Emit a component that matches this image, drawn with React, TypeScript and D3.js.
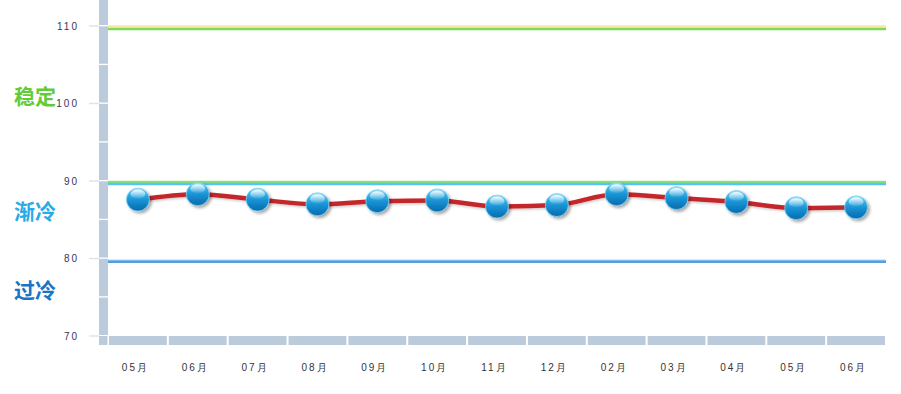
import React from "react";
import * as d3 from "d3";

const categories = ["05月", "06月", "07月", "08月", "09月", "10月", "11月", "12月", "02月", "03月", "04月", "05月", "06月"];
const values = [87.6, 88.3, 87.6, 87.0, 87.4, 87.5, 86.7, 86.9, 88.3, 87.8, 87.3, 86.5, 86.6];
const yTicks = [70, 80, 90, 100, 110];
const yGapValues = [70, 75, 80, 85, 90, 95, 100, 105, 110];
const thresholdValues = [109.95, 109.6, 89.88, 89.6, 79.62];
const thresholdColors = ["#fbe6a6", "#7fd95a", "#8fdf6c", "#55c4f0", "#559fde"];
const zoneLabels = ["稳定", "渐冷", "过冷"];
const zoneLabelValues = [101.0, 86.1, 75.9];
const zoneColors = ["#62cb35", "#2aaae6", "#1a74c6"];

const W = 901;
const H = 394;

export default function App() {
  const y = d3.scaleLinear().domain([70, 110]).range([336, 26]);
  const x = d3.scaleBand<number>().domain(d3.range(categories.length)).range([108, 886]);
  const bw = x.bandwidth();
  const cx = (i: number) => (x(i) as number) + bw / 2;

  const line = d3
    .line<number>()
    .x((_, i) => cx(i))
    .y((d) => y(d))
    .curve(d3.curveMonotoneX);

  const axisFont = "'Liberation Sans', Arial, sans-serif";

  return (
    <svg
      width={W}
      height={H}
      style={{ position: "absolute", left: 0, top: 0, background: "#fff" }}
      xmlns="http://www.w3.org/2000/svg"
    >
      <defs>
        <linearGradient id="ball" x1="0" y1="0" x2="0" y2="1">
          <stop offset="0" stopColor="#a6e6fb" />
          <stop offset="0.2" stopColor="#3fb6ea" />
          <stop offset="0.55" stopColor="#1590d2" />
          <stop offset="1" stopColor="#0a6aab" />
        </linearGradient>
        <linearGradient id="gloss" x1="0" y1="0" x2="0" y2="1">
          <stop offset="0" stopColor="#ffffff" stopOpacity="0.9" />
          <stop offset="1" stopColor="#ffffff" stopOpacity="0.05" />
        </linearGradient>
        <filter id="shadow" x="-50%" y="-50%" width="200%" height="200%">
          <feDropShadow dx="2" dy="2" stdDeviation="1.4" floodColor="#000" floodOpacity="0.35" />
        </filter>
        <filter id="lineShadow" x="-5%" y="-50%" width="110%" height="200%">
          <feDropShadow dx="1" dy="1.5" stdDeviation="1" floodColor="#000" floodOpacity="0.2" />
        </filter>
      </defs>

      {/* vertical axis bar */}
      <rect x={99} y={0} width={9} height={336} fill="#bccbdc" />
      {yGapValues.map((v) => (
        <rect key={"g" + v} x={99} y={y(v) - 1} width={9} height={1.3} fill="#ffffff" />
      ))}
      {/* corner piece */}
      <rect x={99} y={336} width={8.5} height={9} fill="#bccbdc" />
      {/* bottom bar segments */}
      {categories.map((c, i) => (
        <rect key={"b" + i} x={(x(i) as number) + 1} y={336} width={bw - 2} height={9} fill="#bccbdc" />
      ))}

      {/* y ticks */}
      {yTicks.map((t) => (
        <g key={"t" + t}>
          <line x1={89} x2={99} y1={y(t)} y2={y(t)} stroke="#dde4ec" strokeWidth={1.5} />
          <text
            x={79}
            y={y(t) + 3.5}
            textAnchor="end"
            fontFamily={axisFont}
            fontSize={10}
            letterSpacing={2}
            fill="#3d3358"
          >
            {t}
          </text>
        </g>
      ))}

      {/* threshold lines */}
      {thresholdValues.map((v, i) => (
        <line
          key={"th" + i}
          x1={108}
          x2={886}
          y1={y(v)}
          y2={y(v)}
          stroke={thresholdColors[i]}
          strokeWidth={i === 4 ? 3 : 2.5}
        />
      ))}
      <line x1={108} x2={886} y1={y(79.62) - 1.4} y2={y(79.62) - 1.4} stroke="#a9d2f2" strokeWidth={1} />

      {/* zone labels */}
      {zoneLabels.map((l, i) => (
        <text
          key={"z" + i}
          x={14}
          y={y(zoneLabelValues[i]) + 8}
          fontFamily="'Noto Sans CJK SC', sans-serif"
          fontWeight="bold"
          fontSize={21}
          fill={zoneColors[i]}
        >
          {l}
        </text>
      ))}

      {/* x labels */}
      {categories.map((c, i) => (
        <text
          key={"x" + i}
          x={cx(i) - 2.5}
          y={371}
          textAnchor="middle"
          fontFamily={axisFont}
          fontSize={10}
          letterSpacing={2}
          fill="#333"
        >
          {c}
        </text>
      ))}

      {/* data line */}
      <path d={line(values) || ""} fill="none" stroke="#c4282b" strokeWidth={4.5} filter="url(#lineShadow)" />

      {/* markers */}
      {values.map((v, i) => (
        <g key={"m" + i} transform={`translate(${cx(i)},${y(v)})`}>
          <circle r={11.5} fill="url(#ball)" stroke="#7fd3f3" strokeWidth={0.8} filter="url(#shadow)" />
          <ellipse cx={0} cy={-5.5} rx={7.5} ry={4.5} fill="url(#gloss)" />
        </g>
      ))}
    </svg>
  );
}
